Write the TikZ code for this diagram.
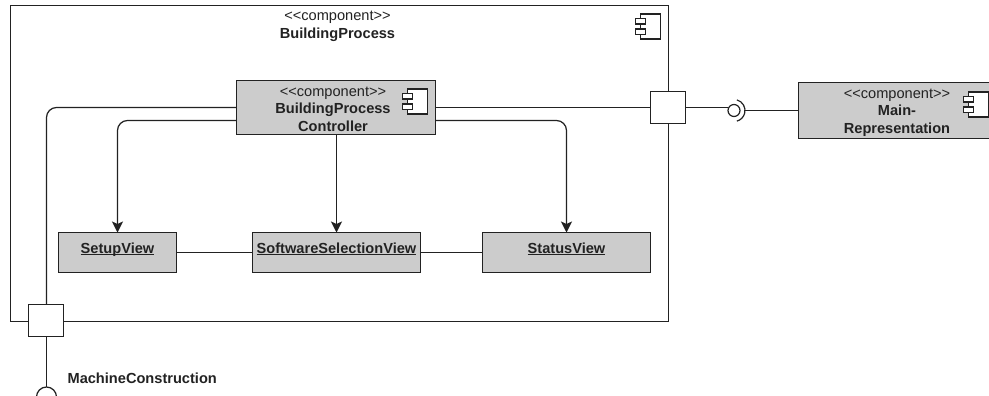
\documentclass[tikz,border=0pt]{standalone}
\usepackage{fontspec}
\setmainfont{Liberation Sans}
\usetikzlibrary{arrows.meta}
\definecolor{boxgray}{HTML}{CCCCCC}
\definecolor{ink}{HTML}{222222}
\tikzset{
  boxbase/.style={draw=ink,rectangle,inner sep=0pt,outer sep=0pt,anchor=center},
  compbox/.style={boxbase,fill=boxgray},
  titletext/.style={align=center,text=ink,inner sep=0pt,font=\fontsize{14.6}{17.6}\selectfont},
  viewbox/.style={boxbase,fill=boxgray,minimum height=40pt,text height=12pt,text depth=10pt,text=ink,font=\fontsize{14.6}{17.6}\selectfont\bfseries},
  portbox/.style={boxbase,fill=white,minimum width=35pt,minimum height=32pt},
  conn/.style={draw=ink},
  rconn/.style={conn,rounded corners=10pt},
  arrowconn/.style={rconn,-{Stealth[length=11pt,width=11pt,inset=2.5pt]}},
  compicon/.pic={
    \draw[draw=ink,fill=white] (-10,-12.5) rectangle (10,12.5);
    \draw[draw=ink,fill=white] (-15,-8) rectangle (-5,-2.5);
    \draw[draw=ink,fill=white] (-15,2.5) rectangle (-5,8);
  }
}
\newcommand{\stereo}{<\kern0pt<component>\kern0pt>}
\newcommand{\ulview}[1]{\setbox0=\hbox{#1}\rlap{\rule[-1.7pt]{\wd0}{1pt}}\box0}
\begin{document}
\begin{tikzpicture}[x=1pt,y=-1pt,line width=1.2pt]
\useasboundingbox (0,0) rectangle (989,396);
\clip (0,0) rectangle (989,396);
\fill[white] (0,0) rectangle (989,396);
% outer component
\node[boxbase,fill=white,minimum width=658pt,minimum height=316pt] (outer) at (339.5,163.5) {};
\node[titletext] (outertitle) at (337.5,26.5) {\stereo\\\textbf{BuildingProcess}};
\pic at (650.5,26.5) {compicon};
% inner component
\node[compbox,minimum width=199pt,minimum height=54pt] (ctrl) at (336,107.5) {};
\node[titletext] (ctrltitle) at (333,109) {\stereo\\\textbf{BuildingProcess}\\\textbf{Controller}};
\pic at (417.5,101.5) {compicon};
% views
\node[viewbox,minimum width=118pt] (setup) at (117.5,252.5) {\ulview{SetupView}};
\node[viewbox,minimum width=168pt] (soft) at (336.5,252.5) {\ulview{SoftwareSelectionView}};
\node[viewbox,minimum width=168pt] (status) at (566.5,252.5) {\ulview{StatusView}};
% ports
\node[portbox] (portA) at (668,107.5) {};
\node[portbox] (portB) at (46,320.5) {};
% main representation
\node[compbox,minimum width=198pt,minimum height=56pt] (main) at (897.5,110.5) {};
\node[titletext] (maintitle) at (897,112.5) {\stereo\\\textbf{Main-}\\\textbf{Representation}};
\pic at (978.5,104.5) {compicon};
% interfaces
\node[draw=ink,fill=white,circle,minimum size=12pt,inner sep=0pt,outer sep=0pt] (iface) at (734,110.5) {};
\coordinate (sock) at (46.5,397);
\coordinate (socktop) at (46.5,387);
% connectors
\draw[rconn] (ctrl.west) -| (socktop |- portB.north);
\draw[conn] (ctrl.east) -- (portA.west);
\draw[arrowconn] ([yshift=-13pt]ctrl.west) -| (setup.north);
\draw[arrowconn] ([yshift=-13pt]ctrl.east) -| (status.north);
\draw[arrowconn] (soft.north |- ctrl.south) -- (soft.north);
\draw[conn] (setup.east) -- (setup.east -| soft.west);
\draw[conn] (soft.east) -- (soft.east -| status.west);
\draw[conn] (portA.east) -- (portA.east -| iface.west);
\draw[conn] (iface.east -| main.west) -- ([xshift=11pt]iface.center);
\draw[conn] (iface.center) ++(-75:11) arc[start angle=-75,end angle=75,radius=11];
\draw[conn] (socktop |- portB.south) -- (socktop);
\draw[conn] (sock) ++(180:10) arc[start angle=180,end angle=360,radius=10];
\node[anchor=west,inner sep=0pt,text=ink,font=\fontsize{14.6}{17.6}\selectfont\bfseries] (mc) at (67,378) {MachineConstruction};
\end{tikzpicture}
\end{document}
